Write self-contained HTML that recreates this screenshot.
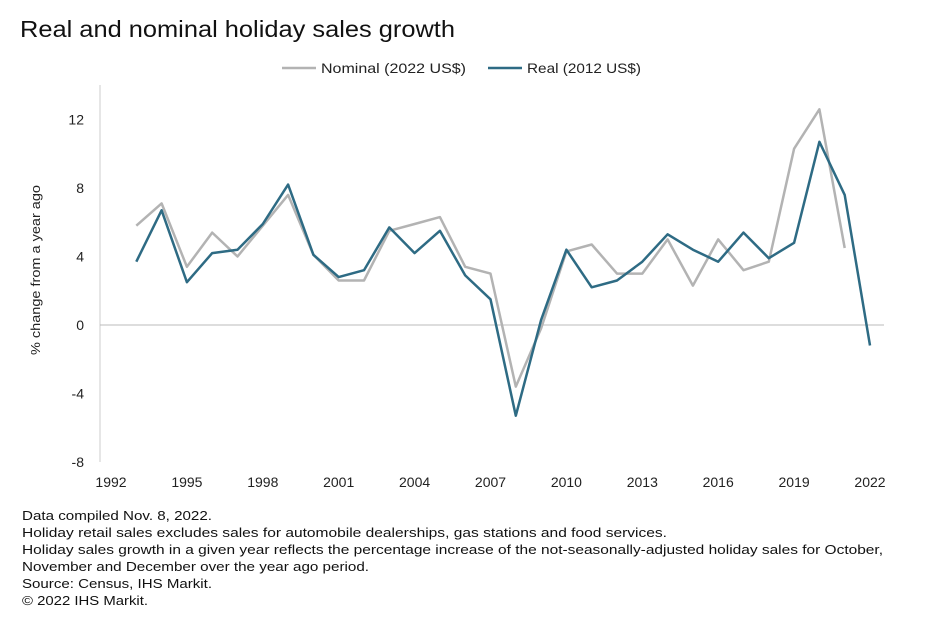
<!DOCTYPE html>
<html><head><meta charset="utf-8"><style>
body{margin:0;background:#fff;font-family:"Liberation Sans",sans-serif;}
svg text{font-family:"Liberation Sans",sans-serif;}
</style></head><body>
<svg id="chart" width="926" height="628">
<text x="20" y="37" font-size="23" fill="#111" textLength="435" lengthAdjust="spacingAndGlyphs">Real and nominal holiday sales growth</text>
<g>
<line x1="282" y1="68" x2="316" y2="68" stroke="#b3b3b3" stroke-width="2.5"/>
<text x="321" y="73" font-size="14" fill="#222" textLength="145" lengthAdjust="spacingAndGlyphs">Nominal (2022 US$)</text>
<line x1="488" y1="68" x2="522" y2="68" stroke="#2e6b84" stroke-width="2.5"/>
<text x="527" y="73" font-size="14" fill="#222" textLength="114" lengthAdjust="spacingAndGlyphs">Real (2012 US$)</text>
</g>
<line x1="100" y1="85" x2="100" y2="462" stroke="#ccc"/>
<text transform="translate(40,270) rotate(-90)" text-anchor="middle" font-size="13" fill="#222" textLength="170" lengthAdjust="spacingAndGlyphs">% change from a year ago</text>
<g id="yt"></g><g id="xt"></g><g id="lines"></g>
<g font-size="13" fill="#111">
<text x="22" y="520" textLength="190" lengthAdjust="spacingAndGlyphs">Data compiled Nov. 8, 2022.</text>
<text x="22" y="537" textLength="645" lengthAdjust="spacingAndGlyphs">Holiday retail sales excludes sales for automobile dealerships, gas stations and food services.</text>
<text x="22" y="554" textLength="861" lengthAdjust="spacingAndGlyphs">Holiday sales growth in a given year reflects the percentage increase of the not-seasonally-adjusted holiday sales for October,</text>
<text x="22" y="571" textLength="347" lengthAdjust="spacingAndGlyphs">November and December over the year ago period.</text>
<text x="22" y="588" textLength="190" lengthAdjust="spacingAndGlyphs">Source: Census, IHS Markit.</text>
<text x="22" y="605" textLength="126" lengthAdjust="spacingAndGlyphs">© 2022 IHS Markit.</text>
</g>
</svg>
<script>
const years=[1993,1994,1995,1996,1997,1998,1999,2000,2001,2002,2003,2004,2005,2006,2007,2008,2009,2010,2011,2012,2013,2014,2015,2016,2017,2018,2019,2020,2021,2022];
const nominal=[5.8,7.1,3.4,5.4,4.0,5.8,7.6,4.1,2.6,2.6,5.5,5.9,6.3,3.4,3.0,-3.6,-0.2,4.3,4.7,3.0,3.0,5.0,2.3,5.0,3.2,3.7,10.3,12.6,4.5,null];
const real=[3.7,6.7,2.5,4.2,4.4,5.9,8.2,4.1,2.8,3.2,5.7,4.2,5.5,2.9,1.5,-5.3,0.3,4.4,2.2,2.6,3.7,5.3,4.4,3.7,5.4,3.9,4.8,10.7,7.6,-1.2];
const yTicks=[12,8,4,0,-4,-8];
const xTicks=[1992,1995,1998,2001,2004,2007,2010,2013,2016,2019,2022];
const NS='http://www.w3.org/2000/svg';
const x=v=>111+(v-1992)*25.3;
const y=v=>325-v*17.12;
function mk(t,a,p){const e=document.createElementNS(NS,t);for(const k in a)e.setAttribute(k,a[k]);p.appendChild(e);return e;}
const yt=document.getElementById('yt'),xt=document.getElementById('xt'),lg=document.getElementById('lines');
yTicks.forEach(v=>{const t=mk('text',{x:84,y:y(v)+5,'text-anchor':'end','font-size':14,fill:'#222'},yt);t.textContent=v;

});
xTicks.forEach(v=>{const t=mk('text',{x:x(v),y:487,'text-anchor':'middle','font-size':14,fill:'#222'},xt);t.textContent=v;

});
const z=mk('line',{x1:100,x2:884,y1:y(0),y2:y(0),stroke:'#bbb'},lg);


function path(arr){let d='',pen=false;arr.forEach((v,i)=>{if(v==null){pen=false;return;}d+=(pen?'L':'M')+x(years[i]).toFixed(1)+','+y(v).toFixed(1);pen=true;});return d;}
const pn=mk('path',{d:path(nominal),fill:'none',stroke:'#b3b3b3','stroke-width':2.5,'stroke-linejoin':'round'},lg);


const pr=mk('path',{d:path(real),fill:'none',stroke:'#2e6b84','stroke-width':2.5,'stroke-linejoin':'round'},lg);


</script>
</body></html>
